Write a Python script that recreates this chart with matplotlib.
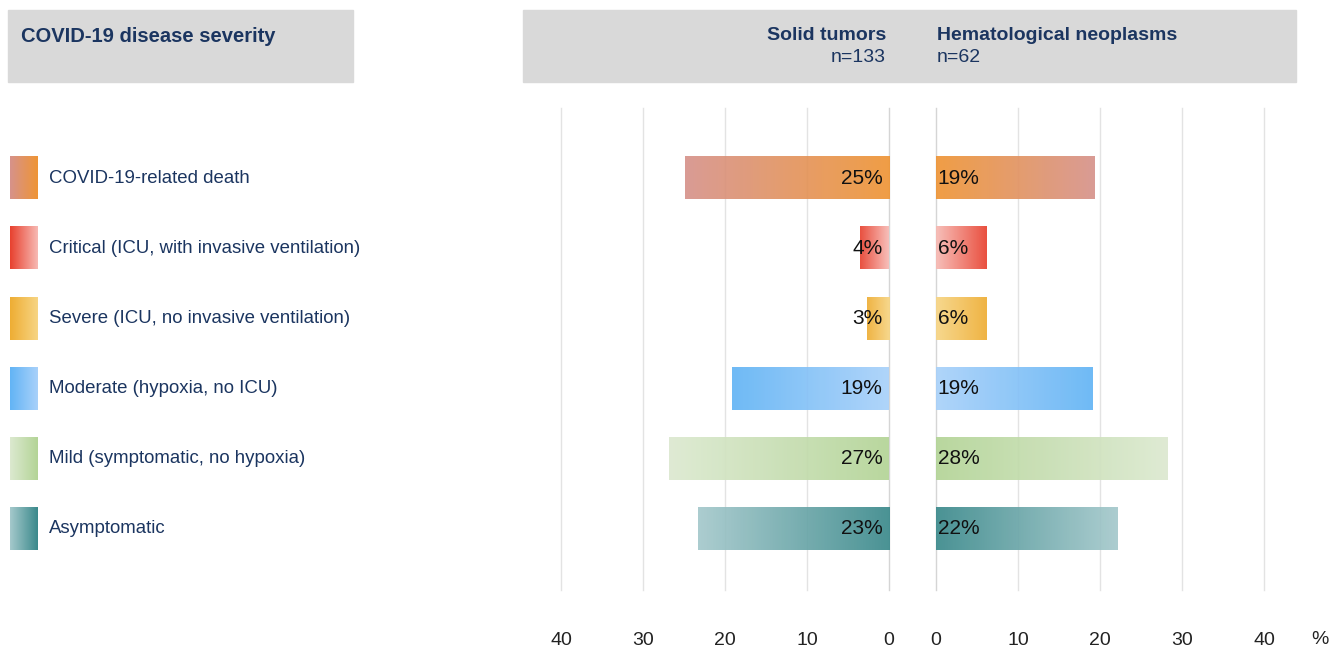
import matplotlib.pyplot as plt
import numpy as np
from matplotlib.colors import LinearSegmentedColormap
from matplotlib.patches import Rectangle

################################################################################
# Data.                                                                        #
################################################################################

categories = ['COVID-19-related death',
              'Critical (ICU, with invasive ventilation)',
              'Severe (ICU, no invasive ventilation)',
              'Moderate (hypoxia, no ICU)',
              'Mild (symptomatic, no hypoxia)',
              'Asymptomatic']
solid = [24.9, 3.5, 2.7, 19.1, 26.8, 23.3]
hemat = [19.3, 6.1, 6.1, 19.1, 28.2, 22.1]
solid_labels = ['25%', '4%', '3%', '19%', '27%', '23%']
hemat_labels = ['19%', '6%', '6%', '19%', '28%', '22%']
ticks = [0, 10, 20, 30, 40]

# colour next to zero, colour at the far end of the bar
zero_colors = ['#ef9535', '#f7bab4', '#f7d584', '#a9d1fa', '#b3d496', '#3a898b']
far_colors  = ['#d6928b', '#e8402e', '#eead33', '#62b4f5', '#dce9d0', '#a5c9cc']

navy = '#1b3560'
plt.rcParams['font.family'] = ['Liberation Sans', 'DejaVu Sans']

W, H = 1330, 650
def fx(px): return px / W
def fy(py): return 1 - py / H

grad = np.linspace(0, 1, 256).reshape(1, -1)
bar_h = 0.6
ylim = (5.87, -1.0)

################################################################################
# Figure.                                                                      #
################################################################################

fig = plt.figure(figsize=(W / 100, H / 100), dpi=100)

# Header boxes.
fig.patches.append(Rectangle((fx(8), fy(82)), fx(345), fy(10) - fy(82),
                             transform=fig.transFigure, color='#d9d9d9', zorder=0))
fig.patches.append(Rectangle((fx(523), fy(82)), fx(773), fy(10) - fy(82),
                             transform=fig.transFigure, color='#d9d9d9', zorder=0))
fig.text(fx(21), fy(36), 'COVID-19 disease severity', color=navy, fontsize=14.5,
         fontweight='bold', va='center', ha='left')
fig.text(fx(886), fy(36), 'Solid tumors', color=navy, fontsize=14,
         fontweight='bold', va='center', ha='right')
fig.text(fx(886), fy(58), 'n=133', color=navy, fontsize=14, va='center', ha='right')
fig.text(fx(937), fy(36), 'Hematological neoplasms', color=navy, fontsize=14,
         fontweight='bold', va='center', ha='left')
fig.text(fx(937), fy(58), 'n=62', color=navy, fontsize=14, va='center', ha='left')

# Bar axes.
ax_l = fig.add_axes([fx(561), fy(590), fx(889 - 561), fy(108) - fy(590)])
ax_r = fig.add_axes([fx(936), fy(590), fx(1264 - 936), fy(108) - fy(590)])

for ax, vals, labs, side in [(ax_l, solid, solid_labels, 'l'), (ax_r, hemat, hemat_labels, 'r')]:
    for i, v in enumerate(vals):
        cmap = LinearSegmentedColormap.from_list('g', [zero_colors[i], far_colors[i]])
        ax.imshow(grad, cmap=cmap, extent=(0, v, i + bar_h / 2, i - bar_h / 2),
                  aspect='auto', alpha=0.92, zorder=2, interpolation='bilinear')
        if side == 'l':
            ax.text(0.8, i, labs[i], ha='right', va='center', fontsize=15,
                    color='#111111', zorder=3)
        else:
            ax.text(0.2, i, labs[i], ha='left', va='center', fontsize=15,
                    color='#111111', zorder=3)
    for t in ticks:
        ax.axvline(t, color='#d5d5d5' if t == 0 else '#e3e3e3', lw=1.0, zorder=1,
                   clip_on=False)
    ax.set_xlim((40, 0) if side == 'l' else (0, 40))
    ax.set_ylim(*ylim)
    ax.set_xticks(ticks)
    ax.set_yticks([])
    ax.tick_params(axis='x', length=0, pad=30, labelsize=14, labelcolor='#222222')
    for s in ax.spines.values():
        s.set_visible(False)

fig.text(fx(1320), fy(639), '%', fontsize=14, color='#222222', ha='center', va='center')

# Legend column.
ax_k = fig.add_axes([0, fy(590), fx(520), fy(108) - fy(590)])
for i, c in enumerate(categories):
    cmap = LinearSegmentedColormap.from_list('g', [far_colors[i], zero_colors[i]])
    ax_k.imshow(grad, cmap=cmap, extent=(10, 38, i + bar_h / 2, i - bar_h / 2),
                aspect='auto', interpolation='bilinear')
    ax_k.text(49, i, c, ha='left', va='center', fontsize=13.4, color=navy)
ax_k.set_xlim(0, 520)
ax_k.set_ylim(*ylim)
ax_k.axis('off')

fig.savefig('out.png', dpi=100)
plt.close()
